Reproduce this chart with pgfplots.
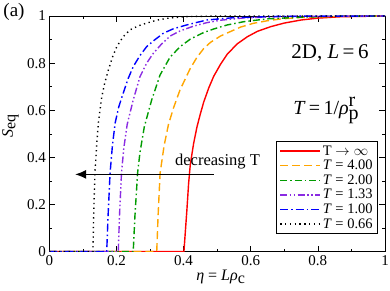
\documentclass[border=0pt]{standalone}
\usepackage{fontspec}
\setmainfont{Liberation Serif}
\usepackage{pgfplots}
\pgfplotsset{compat=1.18}
\usetikzlibrary{arrows.meta}
\definecolor{cOrange}{RGB}{255,165,0}
\definecolor{cGreen}{RGB}{0,155,0}
\definecolor{cPurple}{RGB}{138,43,226}
\definecolor{cBlue}{RGB}{0,0,255}
\begin{document}
\begin{tikzpicture}
\useasboundingbox (0,0) rectangle (390pt,291pt);
\begin{axis}[
  at={(49.3pt,39.3pt)}, anchor=south west,
  scale only axis, width=335.7pt, height=235.7pt,
  xmin=0, xmax=1, ymin=0, ymax=1,
  xtick={0,0.2,...,1}, ytick={0,0.2,...,1},
  xticklabels={0,0.2,0.4,0.6,0.8,1},
  yticklabels={0,0.2,0.4,0.6,0.8,1},
  minor x tick num=1, minor y tick num=1,
  tick align=inside, major tick length=6pt, minor tick length=3pt,
  ticklabel style={font=\fontsize{15}{15}\selectfont},
  /pgf/number format/assume math mode=true,
  axis line style={line width=0.8pt},
  every tick/.style={black, line width=0.6pt},
  xlabel={\textit{η} = \textit{Lρ}$_{\textrm{c}}$},
  xlabel style={font=\fontsize{16}{16}\selectfont, at={(axis description cs:0.511,-0.107)}, anchor=center},
  legend style={at={(rel axis cs:0.979,0.075)}, anchor=south east, draw=black, line width=0.6pt, fill=white,
    font=\fontsize{14.5}{15}\selectfont, inner xsep=3pt, inner ysep=2pt, row sep=-0.5pt},
  legend cell align=left,
  legend image code/.code={\draw[#1] (0pt,0pt) -- (40pt,0pt);},
]
\addplot[red, line width=1.4pt] coordinates {
(0,0)(0.401,0)(0.405,0.08)(0.410,0.18)(0.415,0.29)(0.420,0.37)(0.430,0.46)(0.440,0.53)(0.450,0.585)(0.460,0.635)(0.475,0.695)(0.490,0.745)(0.510,0.795)(0.530,0.838)(0.560,0.882)(0.590,0.912)(0.620,0.935)(0.660,0.955)(0.700,0.970)(0.750,0.983)(0.800,0.991)(0.870,0.997)(1,1)};
\addlegendentry{T $\rightarrow\infty$}
\addplot[cOrange, line width=1.4pt, dash pattern=on 8pt off 4pt] coordinates {
(0,0)(0.320,0)(0.324,0.15)(0.330,0.333)(0.342,0.45)(0.355,0.54)(0.370,0.61)(0.389,0.685)(0.419,0.775)(0.440,0.825)(0.460,0.862)(0.480,0.888)(0.510,0.915)(0.538,0.933)(0.570,0.953)(0.608,0.969)(0.650,0.980)(0.687,0.987)(0.75,0.994)(0.85,0.998)(1,1)};
\addlegendentry{\textit{T} = 4.00}
\addplot[cGreen, line width=1.4pt, dash pattern=on 7pt off 3pt on 1.5pt off 3pt] coordinates {
(0,0)(0.250,0)(0.255,0.15)(0.263,0.333)(0.270,0.42)(0.283,0.53)(0.305,0.644)(0.330,0.75)(0.360,0.826)(0.390,0.870)(0.420,0.902)(0.460,0.930)(0.490,0.945)(0.530,0.962)(0.580,0.976)(0.650,0.988)(0.75,0.995)(0.85,0.999)(1,1)};
\addlegendentry{\textit{T} = 2.00}
\addplot[cPurple, line width=1.4pt, dash pattern=on 7pt off 2.5pt on 1.5pt off 2.5pt on 1.5pt off 2.5pt] coordinates {
(0,0)(0.2055,0)(0.209,0.15)(0.215,0.333)(0.222,0.44)(0.232,0.54)(0.250,0.644)(0.270,0.742)(0.290,0.80)(0.310,0.842)(0.335,0.882)(0.360,0.915)(0.390,0.937)(0.430,0.957)(0.470,0.972)(0.510,0.982)(0.580,0.992)(0.70,0.998)(1,1)};
\addlegendentry{\textit{T} = 1.33}
\addplot[cBlue, line width=1.4pt, dash pattern=on 8pt off 3pt on 1.5pt off 3pt] coordinates {
(0,0)(0.171,0)(0.175,0.15)(0.181,0.333)(0.188,0.45)(0.196,0.545)(0.207,0.615)(0.220,0.672)(0.235,0.735)(0.250,0.785)(0.270,0.832)(0.290,0.870)(0.315,0.900)(0.340,0.927)(0.370,0.946)(0.409,0.962)(0.469,0.983)(0.55,0.993)(0.70,0.999)(1,1)};
\addlegendentry{\textit{T} = 1.00}
\addplot[black, line width=1.4pt, dash pattern=on 1.3pt off 3.5pt] coordinates {
(0,0)(0.130,0)(0.132,0.15)(0.136,0.333)(0.141,0.45)(0.146,0.545)(0.156,0.655)(0.165,0.715)(0.176,0.771)(0.188,0.825)(0.201,0.870)(0.220,0.912)(0.240,0.941)(0.265,0.958)(0.290,0.970)(0.320,0.982)(0.350,0.990)(0.40,0.997)(0.5,1)(1,1)};
\addlegendentry{\textit{T} = 0.66}
\node[font=\fontsize{21}{21}\selectfont] at (axis cs:0.836,0.843) {2D, \textit{L}\,=\,6};
\node[font=\fontsize{20}{20}\selectfont] at (axis cs:0.825,0.60) {\textit{T}\,=\,1/\textit{ρ}$^{\textrm{r}}_{\textrm{p}}$};
\node[font=\fontsize{16.5}{16.5}\selectfont] at (axis cs:0.501,0.381) {decreasing T};
\draw[line width=1.2pt, -{Latex[length=11pt,width=9pt]}] (axis cs:0.49,0.328) -- (axis cs:0.077,0.328);
\end{axis}
\node[font=\fontsize{19}{19}\selectfont] at (14pt,279pt) {(a)};
\node[font=\fontsize{16}{16}\selectfont, rotate=90] at (10.5pt,165pt) {\textit{S}$_{\textrm{eq}}$};
\end{tikzpicture}
\end{document}
